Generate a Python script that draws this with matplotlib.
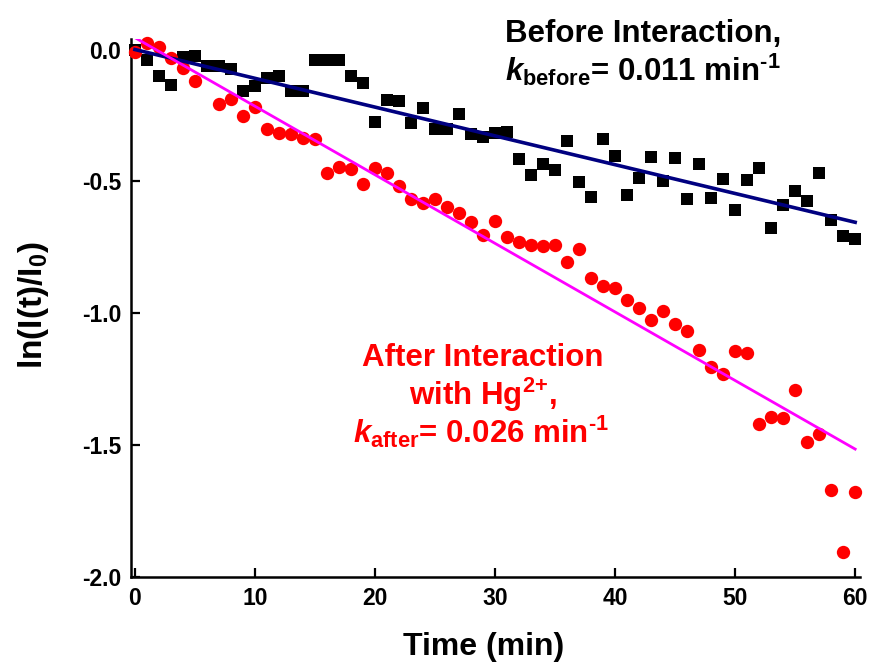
import numpy as np
import matplotlib
matplotlib.use("Agg")
import matplotlib.pyplot as plt

plt.rcParams['font.family'] = ['Liberation Sans', 'DejaVu Sans']
plt.rcParams['font.weight'] = 'bold'
plt.rcParams['axes.unicode_minus'] = False
plt.rcParams['mathtext.fontset'] = 'custom'
plt.rcParams['mathtext.rm'] = 'Liberation Sans:bold'
plt.rcParams['mathtext.bf'] = 'Liberation Sans:bold'
plt.rcParams['mathtext.it'] = 'Liberation Sans:bold:italic'
plt.rcParams['mathtext.default'] = 'rm'

# ---- data ----
time_min = list(range(0, 61))

before = [0.0, -0.04, -0.099, -0.136, -0.028, -0.023, -0.063, -0.063, -0.073, -0.158,
          -0.139, -0.107, -0.10, -0.158, -0.158, -0.04, -0.038, -0.04, -0.10, -0.126,
          -0.275, -0.193, -0.196, -0.28, -0.221, -0.30, -0.30, -0.246, -0.322, -0.331,
          -0.315, -0.313, -0.414, -0.477, -0.433, -0.458, -0.347, -0.501, -0.558, -0.338,
          -0.404, -0.553, -0.486, -0.408, -0.499, -0.41, -0.566, -0.433, -0.562, -0.492,
          -0.61, -0.496, -0.451, -0.675, -0.591, -0.537, -0.574, -0.467, -0.646, -0.707,
          -0.717]

after = [-0.01, 0.023, 0.01, -0.032, -0.069, -0.12, np.nan, -0.205, -0.189, -0.252,
         -0.218, -0.30, -0.318, -0.322, -0.335, -0.341, -0.47, -0.444, -0.452, -0.508,
         -0.448, -0.467, -0.518, -0.566, -0.581, -0.566, -0.596, -0.619, -0.654, -0.705,
         -0.65, -0.71, -0.73, -0.742, -0.745, -0.742, -0.804, -0.755, -0.865, -0.896,
         -0.906, -0.949, -0.979, -1.025, -0.991, -1.042, -1.069, -1.139, -1.202, -1.229,
         -1.143, -1.149, -1.42, -1.395, -1.398, -1.29, -1.49, -1.458, -1.669, -1.906,
         -1.677]

fit_t = [0, 60]
before_fit = [0.0, -0.655]
after_fit = [0.045, -1.515]

x_ticks = [0, 10, 20, 30, 40, 50, 60]
y_ticks = [0.0, -0.5, -1.0, -1.5, -2.0]
y_tick_labels = ['0.0', '-0.5', '-1.0', '-1.5', '-2.0']

# ---- figure ----
fig = plt.figure(figsize=(8.72, 6.71), dpi=100)
ax = fig.add_axes([0.1502, 0.1401, 0.836, 0.8018])

ax.plot(time_min, before, linestyle='none', marker='s', markersize=8.6,
        color='black', markeredgewidth=0, clip_on=False, zorder=3)
ax.plot(time_min, after, linestyle='none', marker='o', markersize=9.6,
        color='#ff0000', markeredgewidth=0, clip_on=False, zorder=3)
ax.plot(fit_t, before_fit, color='#000080', linewidth=2.6, zorder=4)
ax.plot(fit_t, after_fit, color='#ff00ff', linewidth=2.0, zorder=4)

ax.set_xlim(-0.33, 60.4)
ax.set_ylim(-2.0, 0.04)

ax.set_xticks(x_ticks)
ax.set_xticklabels([str(v) for v in x_ticks])
ax.set_yticks(y_ticks)
ax.set_yticklabels(y_tick_labels)

for s in ['top', 'right']:
    ax.spines[s].set_visible(False)
for s in ['left', 'bottom']:
    ax.spines[s].set_linewidth(1.8)

ax.tick_params(axis='both', direction='in', length=6.5, width=1.6,
               labelsize=16.5, pad=7)
for lab in ax.get_xticklabels() + ax.get_yticklabels():
    lab.set_fontweight('bold')

ax.set_xlabel('Time (min)', fontsize=23, fontweight='bold')
ax.xaxis.set_label_coords(0.484, -0.103)
ax.set_ylabel(r'ln(I(t)/I$_{0}$)', fontsize=24, fontweight='bold', va='center')
ax.yaxis.set_label_coords(-0.134, 0.506)

# annotations
def fx(px):
    return px / 872.0

def fy(py):
    return 1.0 - py / 671.0

fig.text(fx(505), fy(42), 'Before Interaction,', fontsize=22.5, fontweight='bold',
         color='black', ha='left', va='baseline')
fig.text(fx(505), fy(81), r'$\mathit{k}_{\mathrm{before}}$= 0.011 min$^{\text{-1}}$',
         fontsize=22.5, fontweight='bold', color='black', ha='left', va='baseline')

fig.text(fx(483), fy(366), 'After Interaction', fontsize=22.5, fontweight='bold',
         color='#ff0000', ha='center', va='baseline')
fig.text(fx(483), fy(405), r'with Hg$^{\text{2+}}$,', fontsize=22.5, fontweight='bold',
         color='#ff0000', ha='center', va='baseline')
fig.text(fx(481), fy(443), r'$\mathit{k}_{\mathrm{after}}$= 0.026 min$^{\text{-1}}$',
         fontsize=22.5, fontweight='bold', color='#ff0000', ha='center', va='baseline')

fig.savefig('out.png', dpi=100)
